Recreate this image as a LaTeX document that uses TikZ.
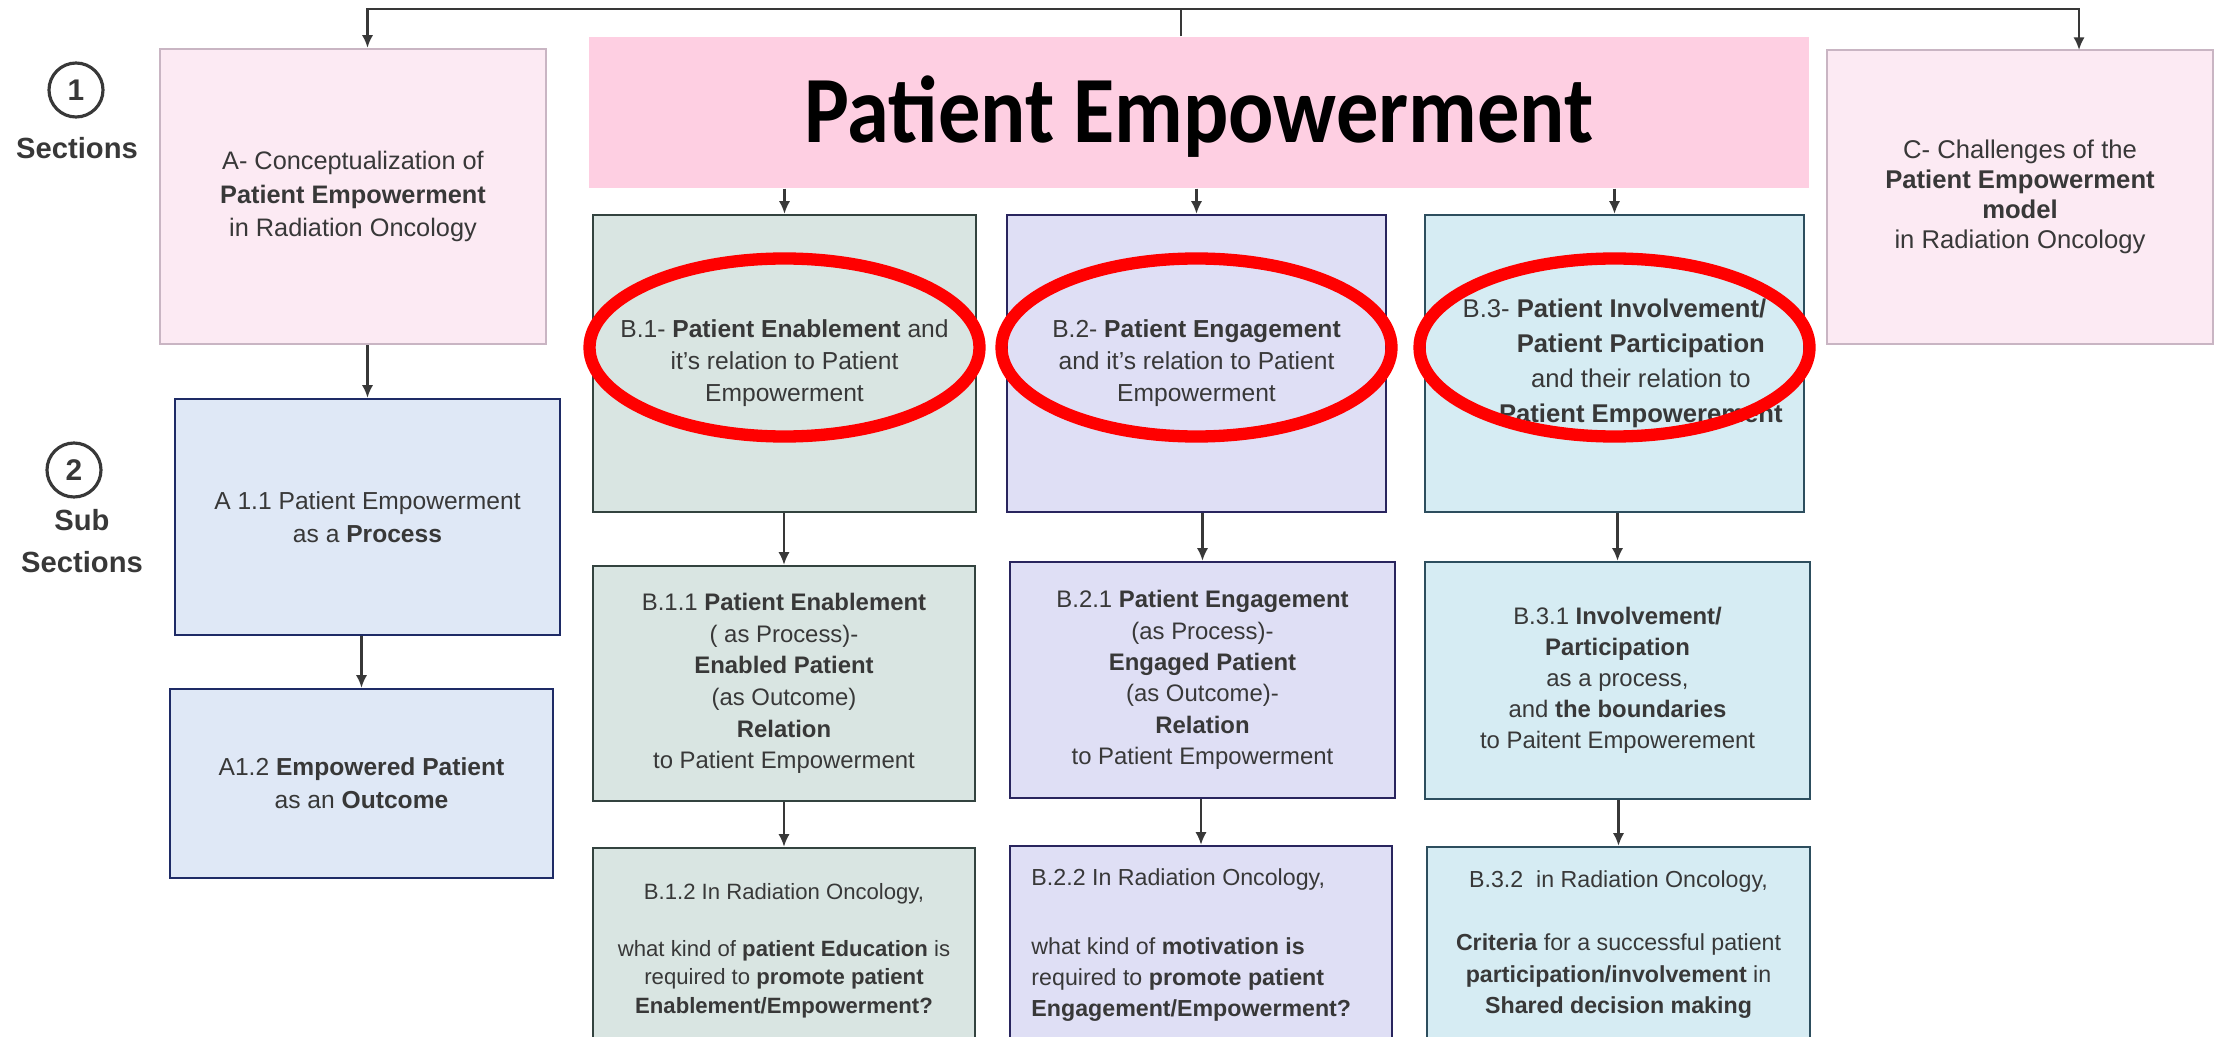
\documentclass[tikz,border=0pt]{standalone}
\usepackage{fontspec}
\setmainfont{Liberation Sans}
\newfontfamily\titlefont[FakeStretch=0.89]{Carlito}
\usetikzlibrary{arrows.meta,positioning}
\definecolor{pinkbg}{HTML}{FCEAF3}
\definecolor{pinkline}{HTML}{C9B5C3}
\definecolor{titlebg}{HTML}{FECFE2}
\definecolor{bluebg}{HTML}{DFE8F6}
\definecolor{blueline}{HTML}{1E2B66}
\definecolor{greenbg}{HTML}{D9E5E2}
\definecolor{greenline}{HTML}{33433F}
\definecolor{lilacbg}{HTML}{DFDFF5}
\definecolor{lilacline}{HTML}{29255E}
\definecolor{cyanbg}{HTML}{D6ECF3}
\definecolor{cyanline}{HTML}{2D4E5E}
\definecolor{ink}{HTML}{383838}
\tikzset{
  box/.style={draw, line width=0.7pt, inner sep=0pt, align=center, text=ink, font=\fontsize{7}{9.1}\selectfont},
  secbox/.style={box, fill=pinkbg, draw=pinkline},
  subbox/.style={box, fill=bluebg, draw=blueline, font=\fontsize{7}{9.3}\selectfont},
  enabox/.style={box, fill=greenbg, draw=greenline},
  engbox/.style={box, fill=lilacbg, draw=lilacline},
  invbox/.style={box, fill=cyanbg, draw=cyanline},
  titlebox/.style={fill=titlebg, inner sep=0pt, text=black, font=\titlefont\bfseries\fontsize{27}{30}\selectfont, text height=17.3pt, text depth=0pt},
  numring/.style={circle, draw=ink, line width=0.9pt, minimum size=0.54cm, inner sep=0pt, text=ink, font=\bfseries\fontsize{8.5}{10}\selectfont},
  seclab/.style={text=ink, inner sep=0pt, align=center, font=\bfseries\fontsize{8.3}{12}\selectfont},
  qtext/.style={inner sep=0pt, text=ink},
  arr/.style={draw=ink, line width=0.6pt, -{Latex[length=3.6pt,width=3.2pt]}},
  link/.style={draw=ink, line width=0.6pt},
  ring/.style={draw=red, line width=3.5pt}
}
\begin{document}
\begin{tikzpicture}
\useasboundingbox (0,0) rectangle (22.18,-10.37);
\clip (0,0) rectangle (22.18,-10.37);
\node[numring] (one) at (0.76,-0.90) {1};
\node[seclab] (sec) at (0.77,-1.48) {Sections};
\node[numring] (two) at (0.74,-4.70) {2};
\node[seclab] (subsec) at (0.82,-5.41) {Sub\\Sections};
\node[titlebox, minimum width=12.2cm, minimum height=1.51cm] (title) at (11.99,-1.125) {Patient Empowerment};
\node[secbox, minimum width=3.86cm, minimum height=2.95cm, font=\fontsize{7.2}{9.5}\selectfont] (A) at (3.53,-1.965)
{A- Conceptualization of\\\textbf{Patient Empowerment}\\in Radiation Oncology};
\node[secbox, minimum width=3.86cm, minimum height=2.94cm, font=\fontsize{7.3}{8.6}\selectfont] (C) at (20.20,-1.97)
{C- Challenges of the\\\textbf{Patient Empowerment}\\\textbf{model}\\in Radiation Oncology};
\node[subbox, minimum width=3.85cm, minimum height=2.36cm] (A11) at (3.675,-5.17)
{A 1.1 Patient Empowerment\\as a \textbf{Process}};
\node[subbox, minimum width=3.83cm, minimum height=1.89cm] (A12) at (3.615,-7.835)
{A1.2 \textbf{Empowered Patient}\\as an \textbf{Outcome}};
\node[enabox, minimum width=3.83cm, minimum height=2.97cm] (B1) at (7.845,-3.635)
{B.1- \textbf{Patient Enablement} and\\it's relation to Patient\\Empowerment};
\node[engbox, minimum width=3.79cm, minimum height=2.97cm] (B2) at (11.965,-3.635)
{B.2- \textbf{Patient Engagement}\\and it's relation to Patient\\Empowerment};
\node[invbox, minimum width=3.79cm, minimum height=2.97cm, font=\fontsize{7.3}{10}\selectfont] (B3) at (16.145,-3.635)
{B.3- \textbf{Patient Involvement/}\\\hspace*{15pt}\textbf{Patient Participation}\\\hspace*{15pt}and their relation to\\\hspace*{15pt}\textbf{Patient Empowerement}};
\node[enabox, minimum width=3.82cm, minimum height=2.35cm, font=\fontsize{6.8}{9}\selectfont] (B11) at (7.84,-6.835)
{B.1.1 \textbf{Patient Enablement}\\( as Process)-\\\textbf{Enabled Patient}\\(as Outcome)\\\textbf{Relation}\\to Patient Empowerment};
\node[engbox, minimum width=3.85cm, minimum height=2.36cm, font=\fontsize{6.8}{8.9}\selectfont] (B21) at (12.025,-6.80)
{B.2.1 \textbf{Patient Engagement}\\(as Process)-\\\textbf{Engaged Patient}\\(as Outcome)-\\\textbf{Relation}\\to Patient Empowerment};
\node[invbox, minimum width=3.85cm, minimum height=2.37cm, font=\fontsize{6.8}{8.8}\selectfont] (B31) at (16.175,-6.805)
{B.3.1 \textbf{Involvement/}\\\textbf{Participation}\\as a process,\\and \textbf{the boundaries}\\to Paitent Empowerement};
\node[enabox, minimum width=3.82cm, minimum height=2.35cm] (B12) at (7.84,-9.655) {};
\node[engbox, minimum width=3.82cm, minimum height=2.35cm] (B22) at (12.01,-9.635) {};
\node[invbox, minimum width=3.83cm, minimum height=2.35cm] (B32) at (16.185,-9.645) {};
\node[qtext, anchor=north, align=center, font=\fontsize{6.3}{8.1}\selectfont] (B12t) at ([yshift=-0.36cm]B12.north)
{B.1.2 In Radiation Oncology,\\[8pt]what kind of \textbf{patient Education} is\\required to \textbf{promote patient}\\\textbf{Enablement/Empowerment?}};
\node[qtext, anchor=north west, align=left, font=\fontsize{6.6}{8.8}\selectfont] (B22t) at ([xshift=0.22cm,yshift=-0.23cm]B22.north west)
{B.2.2 In Radiation Oncology,\\[11pt]what kind of \textbf{motivation is}\\required to \textbf{promote patient}\\\textbf{Engagement/Empowerment?}};
\node[qtext, anchor=north, align=center, font=\fontsize{6.6}{9}\selectfont] (B32t) at ([yshift=-0.24cm]B32.north)
{B.3.2\ \ in Radiation Oncology,\\[9pt]\textbf{Criteria} for a successful patient\\\textbf{participation/involvement} in\\\textbf{Shared decision making}};
\coordinate (hub) at (11.81,-0.09);
\coordinate (cin) at (20.79,-0.50);
\draw[link] (title.north -| hub) -- (hub);
\draw[arr] (hub) -| (A.north -| A11.north);
\draw[arr] (hub) -| (cin);
\foreach \b in {B1,B2,B3}
\draw[arr] (title.south -| \b.north) -- (\b.north);
\foreach \a/\b in {A/A11,A11/A12,B1/B11,B11/B12,B2/B21,B21/B22,B3/B31,B31/B32}
\draw[arr] (\a.south -| \b.north) -- (\b.north);
\foreach \b in {B1,B2,B3}
\draw[ring] ([yshift=1.6mm]\b.center) ellipse [x radius=1.95cm, y radius=0.89cm];
\end{tikzpicture}
\end{document}
